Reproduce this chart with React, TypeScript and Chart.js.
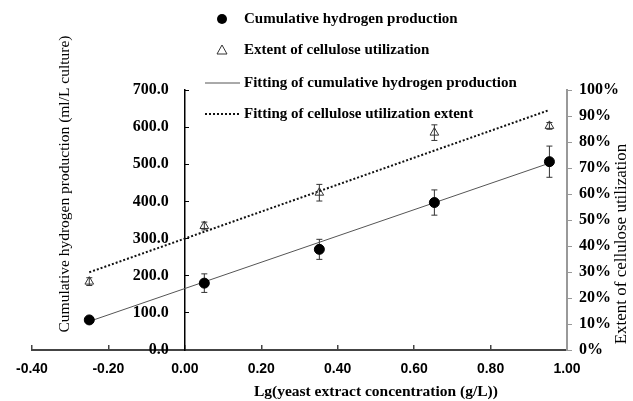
import React, { useEffect, useRef } from "react";
import { Chart, registerables } from "chart.js";

Chart.register(...registerables);

// ---- data ----
const xValues = [-0.25, 0.051, 0.352, 0.653, 0.954];
const hydrogen = [81, 180, 271, 397, 507];
const hydrogenErr = [5, 25, 27, 34, 42];
const cellulose = [26.3, 47.7, 60.5, 83.6, 86.2];
const celluloseErr = [1.5, 1.5, 3.2, 3.0, 1.3];
const fitX = [-0.25, 0.954];
const fitHydrogen = [77, 503];
const fitCellulose = [29.9, 92.3];
const seriesLabels = [
  "Cumulative hydrogen production",
  "Extent of cellulose utilization",
  "Fitting of cumulative hydrogen production",
  "Fitting of cellulose utilization extent",
];
const xTitle = "Lg(yeast extract concentration (g/L))";
const yTitle = "Cumulative hydrogen production (ml/L culture)";
const y2Title = "Extent of cellulose utilization";

const SERIF = "'Liberation Serif', 'Times New Roman', serif";
const SANS = "'Liberation Sans', Arial, sans-serif";

const errorBarPlugin = {
  id: "errorBars",
  beforeDatasetsDraw(chart: any) {
    const ctx = chart.ctx;
    const sets = [
      { idx: 0, vals: hydrogen, errs: hydrogenErr },
      { idx: 1, vals: cellulose, errs: celluloseErr },
    ];
    ctx.save();
    ctx.strokeStyle = "#333";
    ctx.lineWidth = 1;
    sets.forEach((s) => {
      const meta = chart.getDatasetMeta(s.idx);
      const scale = chart.scales[meta.yAxisID];
      meta.data.forEach((pt: any, j: number) => {
        const x = pt.x;
        const yt = scale.getPixelForValue(s.vals[j] + s.errs[j]);
        const yb = scale.getPixelForValue(s.vals[j] - s.errs[j]);
        ctx.beginPath();
        ctx.moveTo(x, yt);
        ctx.lineTo(x, yb);
        ctx.moveTo(x - 3, yt);
        ctx.lineTo(x + 3, yt);
        ctx.moveTo(x - 3, yb);
        ctx.lineTo(x + 3, yb);
        ctx.stroke();
      });
    });
    ctx.restore();
  },
};

const decorPlugin = {
  id: "decor",
  afterDraw(chart: any) {
    const ctx = chart.ctx;
    ctx.save();
    // legend
    const rows = [19, 50, 83, 114];
    const mx = 222;
    ctx.fillStyle = "#000";
    ctx.font = `bold 15px ${SERIF}`;
    ctx.textAlign = "left";
    ctx.textBaseline = "middle";
    rows.forEach((y, i) => {
      ctx.fillText(seriesLabels[i], 244, y);
    });
    // circle
    ctx.beginPath();
    ctx.arc(mx, rows[0], 5, 0, Math.PI * 2);
    ctx.fill();
    // triangle
    ctx.beginPath();
    ctx.strokeStyle = "#333";
    ctx.lineWidth = 1;
    ctx.moveTo(mx, rows[1] - 5);
    ctx.lineTo(mx + 5, rows[1] + 4);
    ctx.lineTo(mx - 5, rows[1] + 4);
    ctx.closePath();
    ctx.stroke();
    // solid line
    ctx.beginPath();
    ctx.strokeStyle = "#555";
    ctx.moveTo(205, rows[2]);
    ctx.lineTo(240, rows[2]);
    ctx.stroke();
    // dotted line
    ctx.beginPath();
    ctx.strokeStyle = "#111";
    ctx.lineWidth = 2;
    ctx.setLineDash([2, 2]);
    ctx.moveTo(205, rows[3]);
    ctx.lineTo(239, rows[3]);
    ctx.stroke();
    ctx.setLineDash([]);

    // axis titles
    ctx.fillStyle = "#000";
    ctx.font = `15.5px ${SERIF}`;
    ctx.textAlign = "center";
    ctx.textBaseline = "middle";
    ctx.save();
    ctx.translate(65, 184);
    ctx.rotate(-Math.PI / 2);
    ctx.fillText(yTitle, 0, 0);
    ctx.restore();
    ctx.save();
    ctx.font = `17px ${SERIF}`;
    ctx.textBaseline = "alphabetic";
    ctx.translate(626, 244);
    ctx.rotate(-Math.PI / 2);
    ctx.fillText(y2Title, 0, 0);
    ctx.restore();
    const xs = chart.scales.x;
    const cx = (xs.getPixelForValue(0) + xs.getPixelForValue(1)) / 2;
    ctx.font = `bold 15.5px ${SERIF}`;
    ctx.fillText(xTitle, cx, 392);
    ctx.restore();
  },
};

export default function App() {
  const ref = useRef<HTMLCanvasElement | null>(null);
  useEffect(() => {
    if (!ref.current) return;
    const chart = new Chart(ref.current, {
      type: "scatter",
      data: {
        datasets: [
          {
            label: seriesLabels[0],
            data: xValues.map((x, i) => ({ x, y: hydrogen[i] })),
            yAxisID: "y",
            pointStyle: "circle",
            pointRadius: 5,
            backgroundColor: "#000",
            borderColor: "#000",
            showLine: false,
          },
          {
            label: seriesLabels[1],
            data: xValues.map((x, i) => ({ x, y: cellulose[i] })),
            yAxisID: "y2",
            pointStyle: "triangle",
            pointRadius: 5,
            backgroundColor: "rgba(255,255,255,0)",
            borderColor: "#333",
            borderWidth: 1,
            showLine: false,
          },
          {
            label: seriesLabels[2],
            data: fitX.map((x, i) => ({ x, y: fitHydrogen[i] })),
            yAxisID: "y",
            showLine: true,
            pointRadius: 0,
            borderColor: "#555",
            borderWidth: 1,
          },
          {
            label: seriesLabels[3],
            data: fitX.map((x, i) => ({ x, y: fitCellulose[i] })),
            yAxisID: "y2",
            showLine: true,
            pointRadius: 0,
            borderColor: "#111",
            borderWidth: 2,
            borderDash: [2, 2],
          },
        ],
      },
      options: {
        animation: false,
        responsive: false,
        layout: { padding: { left: 31, top: 90, right: 0, bottom: 0 } },
        plugins: { legend: { display: false }, tooltip: { enabled: false } },
        scales: {
          x: {
            type: "linear",
            position: "bottom",
            min: -0.4,
            max: 1.0,
            ticks: {
              stepSize: 0.2,
              callback: (v: any) => {
                const n = Math.abs(Number(v)) < 1e-9 ? 0 : Number(v);
                return n.toFixed(2);
              },
              font: { family: SANS, size: 14, weight: "bold" },
              color: "#000",
              padding: 16,
            },
            grid: { drawOnChartArea: false, tickLength: -5, color: "#444", lineWidth: 1.5 },
            border: { color: "#444", width: 2 },
            afterFit: (s: any) => {
              s.height = 51;
            },
          },
          y: {
            type: "linear",
            position: { x: 0 } as any,
            min: 0,
            max: 700,
            ticks: {
              stepSize: 100,
              // trailing spaces keep the right-aligned labels clear of the axis line
              callback: (v: any) => `${Number(v).toFixed(1)}    `,
              font: { family: SERIF, size: 16, weight: "bold" },
              color: "#000",
              padding: 20,
            },
            grid: { drawOnChartArea: false, tickLength: -5, color: "#000", lineWidth: 1 },
            border: { color: "#000", width: 1.5 },
          },
          y2: {
            type: "linear",
            position: "right",
            min: 0,
            max: 100,
            ticks: {
              stepSize: 10,
              callback: (v: any) => `${v}%`,
              font: { family: SERIF, size: 16, weight: "bold" },
              color: "#000",
              padding: 7,
            },
            grid: { drawOnChartArea: false, tickLength: 5, color: "#999", lineWidth: 1 },
            border: { color: "#999", width: 2 },
            afterFit: (s: any) => {
              s.width = 66;
            },
          },
        },
      },
      plugins: [errorBarPlugin, decorPlugin],
    });
    return () => chart.destroy();
  }, []);
  return (
    <div style={{ position: "absolute", left: 0, top: 0, width: 633, height: 401 }}>
      <canvas ref={ref} width={633} height={401} style={{ display: "block" }} />
    </div>
  );
}
